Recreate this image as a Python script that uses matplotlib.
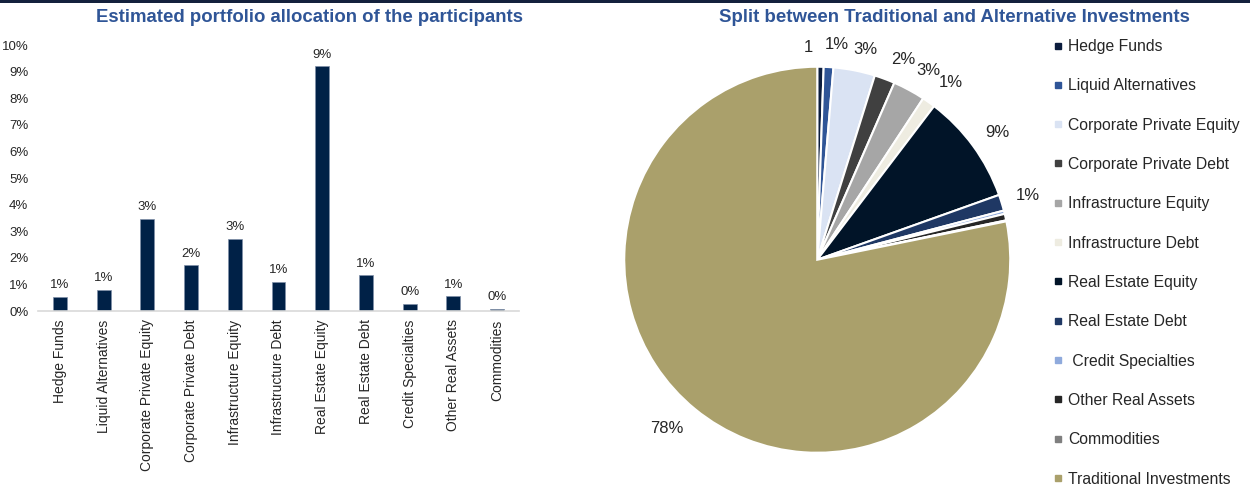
import numpy as np
import matplotlib
matplotlib.use("Agg")
import matplotlib.pyplot as plt
from matplotlib.lines import Line2D

plt.rcParams['font.family'] = ['Liberation Sans', 'DejaVu Sans']

categories = ['Hedge Funds', 'Liquid Alternatives', 'Corporate Private Equity',
              'Corporate Private Debt', 'Infrastructure Equity', 'Infrastructure Debt',
              'Real Estate Equity', 'Real Estate Debt', 'Credit Specialties',
              'Other Real Assets', 'Commodities']
allocation = [0.53, 0.81, 3.48, 1.72, 2.71, 1.10, 9.20, 1.35, 0.28, 0.55, 0.08]

split_names = ['Hedge Funds', 'Liquid Alternatives', 'Corporate Private Equity',
               'Corporate Private Debt', 'Infrastructure Equity', 'Infrastructure Debt',
               'Real Estate Equity', 'Real Estate Debt', ' Credit Specialties',
               'Other Real Assets', 'Commodities', 'Traditional Investments']
split_values = allocation + [100 - sum(allocation)]
pie_labels = ['1', '1%', '3%', '2%', '3%', '1%', '9%', '1%', '', '', '', '78%']

pie_colors = ['#0c1d3d', '#2f5597', '#dae3f3', '#404040', '#a6a6a6', '#eeece1',
              '#011428', '#1f3864', '#8faadc', '#262626', '#7f7f7f', '#aaa06b']
# label placement around the pie: radial factor and small angular nudge (deg)
label_r = [1.10, 1.12, 1.12, 1.13, 1.14, 1.15, 1.14, 1.14, 1, 1, 1, 1.17]
label_nudge = [3.4, -1.9, -1.9, -2.8, -2.0, -1.7, -1.0, -0.3, 0, 0, 0, -2.5]

bar_color = '#002147'
title_color = '#2f5597'

fig = plt.figure(figsize=(12.5, 4.93), dpi=100)

# thin navy rule along the top edge
fig.add_artist(plt.Rectangle((0, 0.994), 1, 0.006, transform=fig.transFigure,
                             color='#14213d', lw=0))

# ---- left: bar chart
ax1 = fig.add_axes([0.0304, 0.369, 0.3848, 0.5396])
x = np.arange(len(categories))
bars = ax1.bar(x, allocation, width=0.32, color=bar_color,
               edgecolor='#8090a8', linewidth=0.5)
ax1.set_xlim(-0.5, len(categories) - 0.5)
ax1.set_ylim(0, 10)
ax1.set_yticks(range(0, 11))
ax1.set_yticklabels([f'{i}%' for i in range(0, 11)], fontsize=9.5, color='#262626')
ax1.set_xticks(x)
ax1.set_xticklabels(categories, rotation=90, fontsize=10, color='#262626')
ax1.tick_params(axis='both', length=0)
ax1.tick_params(axis='y', pad=7)
ax1.tick_params(axis='x', pad=6)
for side in ['top', 'right', 'left']:
    ax1.spines[side].set_visible(False)
ax1.spines['bottom'].set_color('#d9d9d9')
ax1.spines['bottom'].set_linewidth(1.2)
for b, v in zip(bars, allocation):
    ax1.annotate(f'{v:.0f}%', (b.get_x() + b.get_width() / 2, v),
                 xytext=(0, 4), textcoords='offset points',
                 ha='center', va='bottom', fontsize=9.5, color='#262626')

fig.text(310 / 1250, 1 - 18 / 493, 'Estimated portfolio allocation of the participants',
         ha='center', va='center', fontsize=13.4, fontweight='bold', color=title_color)

# ---- right: pie chart
ax2 = fig.add_axes([0.4608, -0.0162, 0.386, 0.9787])
wedges, _ = ax2.pie(split_values, colors=pie_colors, startangle=90,
                    counterclock=False, radius=1,
                    wedgeprops=dict(edgecolor='white', linewidth=1.5))
ax2.set_xlim(-1.25, 1.25)
ax2.set_ylim(-1.25, 1.25)
ax2.set_aspect('equal')
ax2.axis('off')
for w, lab, r, nd in zip(wedges, pie_labels, label_r, label_nudge):
    if not lab:
        continue
    ang = np.deg2rad((w.theta1 + w.theta2) / 2 + nd)
    ax2.text(r * np.cos(ang), r * np.sin(ang), lab, ha='center', va='center',
             fontsize=12, color='#262626', clip_on=False)

fig.text(954 / 1250, 1 - 18 / 493, 'Split between Traditional and Alternative Investments',
         ha='center', va='center', fontsize=13.4, fontweight='bold', color=title_color)

handles = [Line2D([], [], marker='s', linestyle='none', markersize=4.5,
                  markerfacecolor=c, markeredgecolor=c) for c in pie_colors]
fig.legend(handles, split_names, loc='upper left', bbox_to_anchor=(1053 / 1250, 1 - 39 / 493),
           frameon=False, fontsize=11.3, labelspacing=1.55, handlelength=0.6,
           handletextpad=0.35, borderaxespad=0, borderpad=0,
           labelcolor='#262626')

fig.savefig('out.png', dpi=100)
